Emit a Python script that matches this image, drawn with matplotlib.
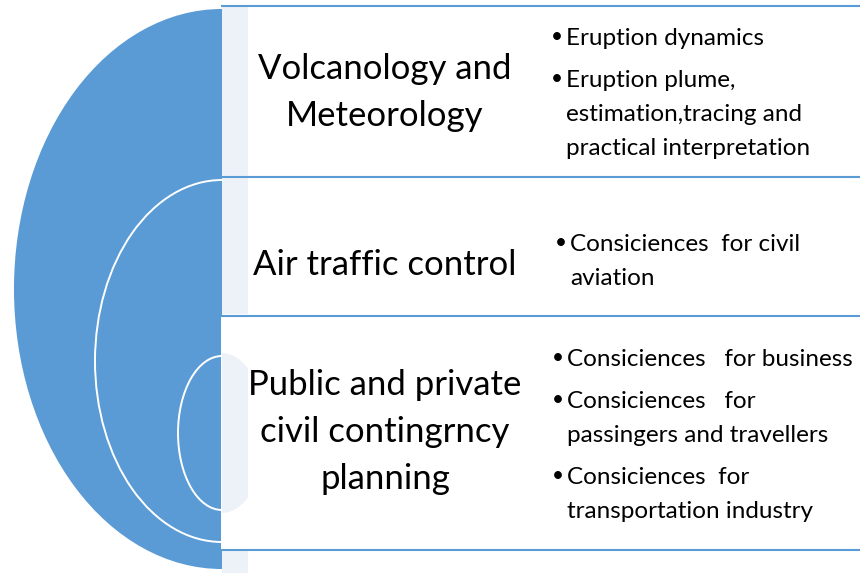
import matplotlib.pyplot as plt
from matplotlib.patches import Ellipse, Rectangle

# content
titles = [
    ["Volcanology and", "Meteorology"],
    ["Air traffic control"],
    ["Public and private", "civil contingrncy", "planning"],
]
bullets = [
    [["Eruption dynamics"],
     ["Eruption plume,", "estimation,tracing and", "practical interpretation"]],
    [["Consiciences  for civil", "aviation"]],
    [["Consiciences   for business"],
     ["Consiciences   for", "passingers and travellers"],
     ["Consiciences  for", "transportation industry"]],
]

# layout (pixel coordinates, y down)
W, H = 860, 573
cx = 222
rings = [(289, 209, 281), (361, 127, 181), (433, 44, 77)]   # cy, rx, ry
box_top = [6, 177, 316]
box_bot = [177, 315, 549]
title_base = [79, 275, 395]
title_step = 47
bullet_base = [45, 251, 366]
text_x = [566, 570, 567]
line_step = 34
bullet_gap = 8

blue = "#5B9BD5"
pale = "#EDF2F9"
font = "Lato"

fig = plt.figure(figsize=(W / 100, H / 100), dpi=100)
ax = fig.add_axes([0, 0, 1, 1])
ax.set_xlim(0, W)
ax.set_ylim(H, 0)
ax.axis("off")

# nested half ellipses, cut at the box edge
left = Rectangle((0, 0), cx, H, transform=ax.transData)
for i, (cy, rx, ry) in enumerate(rings):
    p = Ellipse((cx, cy), 2 * rx, 2 * ry, facecolor=blue,
                edgecolor="white", lw=1.4, zorder=1 + i)
    ax.add_patch(p)
    p.set_clip_path(left)

# boxes
for i in range(3):
    x0 = cx - 1 if i == 2 else cx
    ax.add_patch(Rectangle((x0, box_top[i]), W + 10 - x0, box_bot[i] - box_top[i],
                           facecolor="white", edgecolor="none", zorder=5))
    if i < 2:
        ax.add_patch(Rectangle((cx, box_top[i] + 1), 26, box_bot[i] - box_top[i] - 2,
                               facecolor=pale, edgecolor="none", zorder=6))
clip = Rectangle((cx, 316), 26, 233, transform=ax.transData)
e = Ellipse((cx, rings[2][0]), 2 * rings[2][1], 2 * rings[2][2] + 6,
            facecolor=pale, edgecolor="none", zorder=6)
ax.add_patch(e)
e.set_clip_path(clip)
ax.add_patch(Rectangle((cx, 550), 26, 30, facecolor=pale, edgecolor="none", zorder=6))

for y in [6, 177, 315.5, 549.5]:
    ax.plot([cx - 1, W + 5], [y, y], color=blue, lw=1.5, zorder=7, solid_capstyle="butt")

# titles
for i, lines in enumerate(titles):
    for j, s in enumerate(lines):
        ax.text(385, title_base[i] + j * title_step, s, ha="center", va="baseline",
                fontsize=25, family=font, color="black", zorder=8)

# bullets
for i, items in enumerate(bullets):
    y = bullet_base[i]
    for item in items:
        ax.text(text_x[i] - 15, y - 2, "\u2022", ha="left", va="baseline",
                fontsize=15, family=font, color="black", zorder=8)
        for s in item:
            ax.text(text_x[i], y, s, ha="left", va="baseline",
                    fontsize=17.5, family=font, color="black", zorder=8)
            y += line_step
        y += bullet_gap

fig.savefig("out.png", dpi=100)
